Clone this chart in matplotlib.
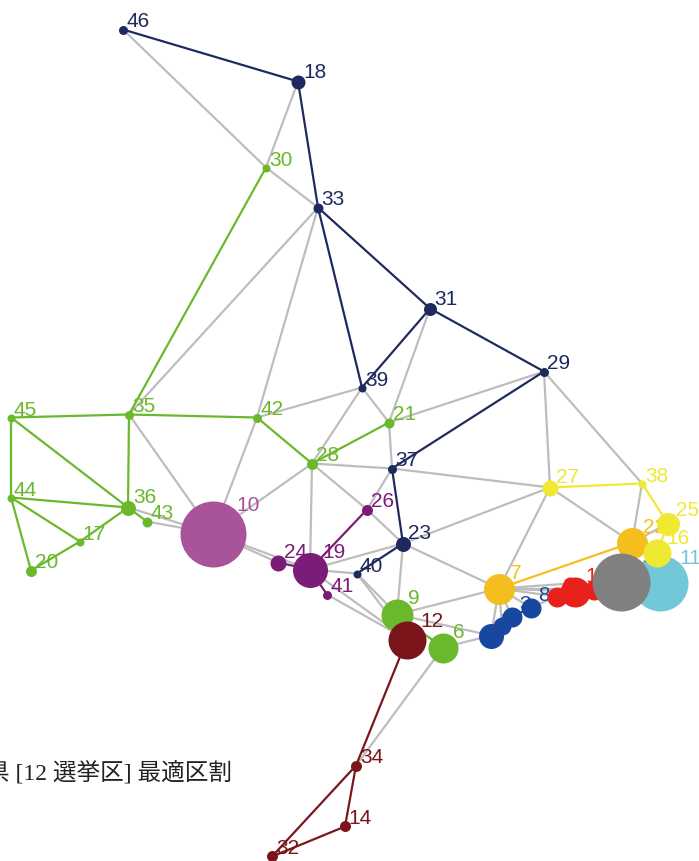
import matplotlib
matplotlib.use("Agg")
import matplotlib.pyplot as plt

# nodes in draw order
node_ids = ["46", "18", "33", "31", "29", "39", "37", "23", "40",
            "30", "35", "42", "45", "44", "36", "43", "17", "20", "28", "21", "9", "6",
            "10", "24", "26", "41", "19",
            "12", "34", "14", "32",
            "4", "5", "8", "3",
            "15", "2", "7r", "13",
            "7", "27",
            "11", "22", "1",
            "38", "25", "16"]
node_x = [123, 298, 318, 430, 544, 362, 392, 403, 357,
          266, 129, 257, 11, 11, 128, 147, 80, 31, 312, 389, 397, 443,
          213, 278, 367, 327, 310,
          407, 356, 345, 272,
          502, 491, 531, 512,
          570, 557, 594, 575,
          499, 550,
          660, 632, 621,
          642, 668, 657]
node_y = [30, 82, 208, 309, 372, 388, 469, 544, 574,
          168, 415, 418, 418, 498, 508, 522, 542, 571, 464, 423, 615, 648,
          534, 563, 510, 595, 570,
          640, 766, 827, 857,
          626, 636, 608, 617,
          584, 597, 590, 592,
          589, 488,
          583, 543, 582,
          484, 524, 553]
node_r = [4.5, 7, 5, 6.5, 4.5, 4, 4.5, 7.5, 4,
          4, 4.5, 4.5, 4, 4, 7.5, 5, 4, 5.5, 5.5, 5, 16, 15,
          33, 8, 5.5, 4.5, 17.5,
          19, 5.5, 5.5, 5.5,
          9, 12.5, 10, 10,
          7, 10, 10, 15,
          15.5, 8,
          28, 15.5, 29,
          4, 11.5, 14]
node_group = ["navy"] * 9 + ["green"] * 13 + ["pink"] + ["purple"] * 4 + ["maroon"] * 4 \
    + ["blue"] * 4 + ["red"] * 4 + ["orange"] * 2 + ["cyan", "orange", "gray"] + ["yellow"] * 3
node_group[40] = "yellow"  # 27 sits with 38/25/16
hidden_labels = ["7r", "15", "2", "4"]

gray_edges = [("46", "30"), ("30", "33"), ("18", "30"), ("33", "35"), ("33", "42"),
              ("31", "21"), ("29", "21"), ("29", "27"), ("29", "38"), ("42", "39"),
              ("39", "28"), ("39", "21"), ("21", "37"), ("28", "37"), ("28", "26"),
              ("26", "23"), ("37", "26"), ("37", "27"), ("23", "27"), ("23", "7"),
              ("27", "7"), ("27", "22"), ("38", "22"), ("28", "19"), ("28", "10"),
              ("42", "10"), ("35", "10"), ("36", "10"), ("43", "10"), ("10", "24"),
              ("10", "19"), ("19", "23"), ("19", "40"), ("19", "12"), ("41", "12"),
              ("40", "9"), ("40", "12"), ("23", "9"), ("9", "7"), ("9", "5"),
              ("6", "5"), ("6", "34"), ("7", "5"), ("7", "4"), ("7", "3"), ("7", "8"),
              ("7", "2"), ("7", "13"), ("7", "7r"), ("7", "15"), ("22", "25"),
              ("8", "2")]
color_edges = [("46", "18"), ("18", "33"), ("33", "39"), ("33", "31"), ("31", "29"),
               ("31", "39"), ("29", "37"), ("37", "23"), ("23", "40"),
               ("30", "35"), ("35", "45"), ("35", "42"), ("35", "36"), ("42", "28"),
               ("28", "21"), ("45", "44"), ("45", "36"), ("44", "36"), ("44", "17"),
               ("44", "20"), ("20", "17"), ("17", "36"), ("36", "43"), ("9", "6"),
               ("24", "19"), ("19", "26"), ("19", "41"),
               ("12", "34"), ("34", "32"), ("34", "14"), ("14", "32"),
               ("7", "22"), ("27", "38"), ("38", "25"), ("25", "16"),
               ("5", "4"), ("4", "3"), ("3", "8"), ("2", "13"), ("13", "15"), ("13", "7r")]

title = "県 [12 選挙区] 最適区割"

COLORS = {
    "navy": "#1E2A5E", "green": "#6AB82B", "pink": "#A9549A", "purple": "#7A1C78",
    "maroon": "#7A151B", "blue": "#17479E", "red": "#E9211B", "orange": "#F4BF1E",
    "yellow": "#EFE932", "cyan": "#72C7D9", "gray": "#808080",
}
EDGE_GRAY = "#BDBDBD"
PX = 0.72  # points per pixel at dpi 100


def main():
    fig = plt.figure(figsize=(6.99, 8.62), dpi=100)
    ax = fig.add_axes([0, 0, 1, 1])
    ax.set_xlim(0, 699)
    ax.set_ylim(861.5, -0.5)
    ax.axis("off")

    pos = {n: (x, y) for n, x, y in zip(node_ids, node_x, node_y)}
    group = dict(zip(node_ids, node_group))

    for a, b in gray_edges:
        ax.plot([pos[a][0], pos[b][0]], [pos[a][1], pos[b][1]],
                color=EDGE_GRAY, lw=2.2 * PX, zorder=1, solid_capstyle="round", clip_on=False)
    for a, b in color_edges:
        ax.plot([pos[a][0], pos[b][0]], [pos[a][1], pos[b][1]],
                color=COLORS[group[a]], lw=2.2 * PX, zorder=2, solid_capstyle="round", clip_on=False)

    # node then its label, so later nodes cover earlier labels
    for i, n in enumerate(node_ids):
        x, y, r = node_x[i], node_y[i], node_r[i]
        col = COLORS[node_group[i]]
        ax.scatter([x], [y], s=(2 * r * PX) ** 2, color=col, linewidths=0,
                   zorder=10 + 2 * i, clip_on=True)
        if n in hidden_labels:
            continue
        ax.text(x + 0.7 * r, y - 0.7 * r, n, color=col, fontsize=15,
                family="Liberation Sans", ha="left", va="baseline", zorder=11 + 2 * i)

    ax.text(-14, 780, title, fontsize=17, color="#222222",
            family=["Liberation Serif", "Noto Sans CJK JP"], ha="left", va="baseline", zorder=200)

    fig.savefig("out.png", dpi=100)


if __name__ == "__main__":
    main()
